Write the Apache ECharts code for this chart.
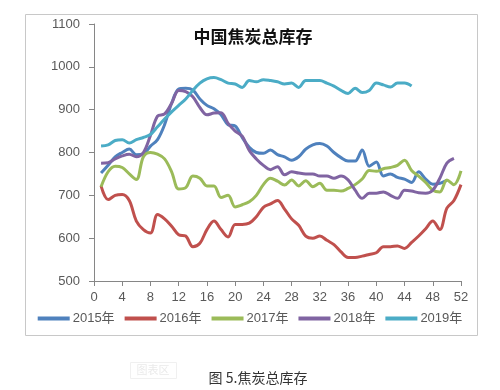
<!DOCTYPE html>
<html><head><meta charset="utf-8">
<script src="https://cdn.jsdelivr.net/npm/echarts@6/dist/echarts.min.js"></script>
<style>html,body{margin:0;padding:0;background:#fff}#c{width:500px;height:390px}</style>
</head><body><div id="c"></div>
<script>
const seriesNames = ['2015年','2016年','2017年','2018年','2019年'];
const colors = ['#4F81BD','#C0504D','#9BBB59','#8064A2','#4BACC6'];
const xTicks = [0,4,8,12,16,20,24,28,32,36,40,44,48,52];
const yTicks = [500,600,700,800,900,1000,1100];
const v2015 = [752,770,790,800,808,795,797,815,830,865,915,948,950,946,925,910,902,888,865,862,835,812,800,798,806,795,790,782,790,808,818,821,815,800,788,780,780,806,768,778,745,750,742,738,730,755,738,726,728,735];
const v2016 = [722,690,700,702,688,640,620,612,655,645,628,608,605,580,588,620,640,620,603,632,632,635,650,672,680,688,668,645,630,605,600,605,595,585,568,555,555,558,562,566,580,580,582,576,590,605,622,640,620,670,688,725];
const v2017 = [720,755,768,765,750,737,790,800,796,785,755,715,718,745,740,722,722,695,700,673,678,685,700,725,740,733,724,736,722,734,720,728,712,712,710,716,725,738,758,756,762,765,770,782,758,745,730,712,708,736,725,757];
const v2018 = [775,776,785,792,796,790,800,840,885,890,915,945,942,930,905,888,892,893,868,850,838,805,785,770,760,767,748,755,752,750,750,745,745,740,745,736,712,693,705,705,708,700,693,712,710,706,705,712,740,775,786];
const v2019 = [815,818,828,830,822,830,835,842,860,878,895,910,925,945,962,972,975,970,962,960,952,968,965,970,968,965,960,962,952,968,968,968,962,955,945,938,950,940,945,962,958,953,962,962,955];
const allValues = [v2015,v2016,v2017,v2018,v2019];

const chart = echarts.init(document.getElementById('c'), null, {renderer:'canvas'});
const font = "'Liberation Sans', 'Noto Sans CJK SC', sans-serif";
chart.setOption({
  animation:false,
  backgroundColor:'#fff',
  grid:{left:94,right:39,top:24,bottom:109},
  xAxis:{type:'value',min:xTicks[0],max:xTicks[xTicks.length-1],interval:4,
    axisLine:{show:true,lineStyle:{color:'#868686',width:1}},
    axisTick:{show:true,length:5,lineStyle:{color:'#868686'}},
    splitLine:{show:false},
    axisLabel:{color:'#595959',fontSize:13,fontFamily:font,margin:10,formatter:v=>String(v)}},
  yAxis:{type:'value',min:yTicks[0],max:yTicks[yTicks.length-1],interval:100,
    axisLine:{show:true,lineStyle:{color:'#868686',width:1}},
    axisTick:{show:true,length:5,lineStyle:{color:'#868686'}},
    splitLine:{show:false},
    axisLabel:{color:'#595959',fontSize:13,fontFamily:font,margin:14,formatter:v=>String(v)}},
  legend:{bottom:60,left:'center',itemWidth:32,itemHeight:4,itemGap:10,icon:'rect',
    textStyle:{color:'#595959',fontSize:13,fontFamily:font,padding:[0,0,0,-2]},
    data:seriesNames},
  series:seriesNames.map((n,i)=>({name:n,type:'line',showSymbol:false,symbol:'none',smooth:0.35,
    lineStyle:{width:3,color:colors[i]},itemStyle:{color:colors[i]},
    data:allValues[i].map((v,k)=>[k+1,v])})),
  graphic:[
    {type:'rect',shape:{x:25.5,y:14.5,width:452,height:321},style:{fill:'none',stroke:'#c8c8c8',lineWidth:1},silent:true,z:-1},
    {type:'text',x:253,y:37,style:{text:'中国焦炭总库存',fill:'#111',font:"bold 17px 'Noto Sans CJK SC'",textAlign:'center',textVerticalAlign:'middle'}},
    {type:'rect',shape:{x:130.5,y:362.5,width:46,height:16},style:{fill:'none',stroke:'#f0f0f0',lineWidth:1}},
    {type:'text',x:153,y:370,style:{text:'图表区',fill:'#eaeaea',font:"11px 'Noto Sans CJK SC'",textAlign:'center',textVerticalAlign:'middle'}},
    {type:'text',x:258,y:378,style:{text:'图 5.焦炭总库存',fill:'#333',font:"14px 'Noto Sans CJK SC'",textAlign:'center',textVerticalAlign:'middle'}}
  ]
});
</script></body></html>
